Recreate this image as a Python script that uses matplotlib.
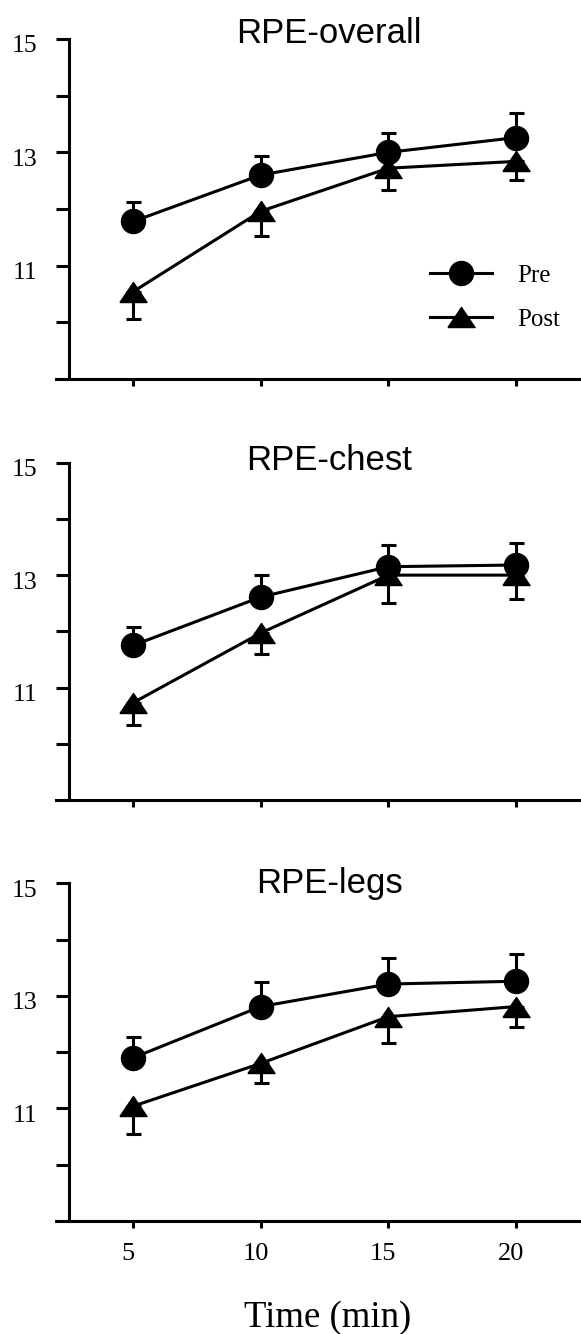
import matplotlib
matplotlib.use("Agg")
import matplotlib.pyplot as plt
import matplotlib.transforms as mtransforms

# Data
times = [5, 10, 15, 20]
panel_titles = ["RPE-overall", "RPE-chest", "RPE-legs"]

overall_pre = [11.78, 12.60, 13.00, 13.26]
overall_pre_err = [0.34, 0.33, 0.35, 0.43]
overall_post = [10.54, 11.96, 12.72, 12.84]
overall_post_err = [0.48, 0.43, 0.38, 0.33]

chest_pre = [11.75, 12.61, 13.15, 13.18]
chest_pre_err = [0.32, 0.39, 0.39, 0.39]
chest_post = [10.73, 11.97, 13.00, 13.00]
chest_post_err = [0.40, 0.38, 0.49, 0.42]

legs_pre = [11.90, 12.81, 13.21, 13.26]
legs_pre_err = [0.37, 0.43, 0.46, 0.48]
legs_post = [11.04, 11.80, 12.63, 12.81]
legs_post_err = [0.50, 0.35, 0.46, 0.36]

ytick_vals = [10, 11, 12, 13, 14, 15]
ytick_labels = ["", "11", "", "13", "", "15"]
xlabel = "Time (min)"

serif = ["Liberation Serif", "DejaVu Serif"]
sans = ["Liberation Sans", "DejaVu Sans"]

# wide flat triangle like the original marker
tri = [(-1, -0.74), (1, -0.74), (0, 0.74), (-1, -0.74)]

fig = plt.figure(figsize=(5.81, 13.34), dpi=100)

# axes boxes [left, bottom, width, height] in figure fraction
boxes = [
    [0.0964, 1 - 379 / 1334, 0.9036, 340 / 1334],
    [0.0964, 1 - 800 / 1334, 0.9036, 337.3 / 1334],
    [0.0964, 1 - 1221 / 1334, 0.9036, 337.7 / 1334],
]
title_y = [0.988, 0.979, 0.971]

series = [
    (overall_pre, overall_pre_err, overall_post, overall_post_err),
    (chest_pre, chest_pre_err, chest_post, chest_post_err),
    (legs_pre, legs_pre_err, legs_post, legs_post_err),
]

lw = 2.2
for i, (box, title, (pre, pre_err, post, post_err)) in enumerate(zip(boxes, panel_titles, series)):
    ax = fig.add_axes(box)

    # error bars: upward for Pre, downward for Post
    ax.errorbar(times, pre, yerr=[[0] * len(pre_err), pre_err], fmt="none",
                ecolor="black", elinewidth=lw, capsize=5.4, capthick=lw, zorder=2)
    ax.errorbar(times, post, yerr=[post_err, [0] * len(post_err)], fmt="none",
                ecolor="black", elinewidth=lw, capsize=5.4, capthick=lw, zorder=2)

    ax.plot(times, post, color="black", lw=lw, marker=tri, markersize=19.5,
            markerfacecolor="black", markeredgecolor="black", label="Post", zorder=3)
    ax.plot(times, pre, color="black", lw=lw, marker="o", markersize=17.3,
            markerfacecolor="black", markeredgecolor="black", label="Pre", zorder=4)

    ax.set_xlim(1.98, 22.55)
    ax.set_ylim(9, 15)
    ax.spines["top"].set_visible(False)
    ax.spines["right"].set_visible(False)
    ax.spines["left"].set_position(("data", 2.49))
    ax.spines["left"].set_bounds(9, 15)
    for s in ("left", "bottom"):
        ax.spines[s].set_linewidth(lw)

    ax.set_yticks(ytick_vals)
    ax.set_yticklabels(ytick_labels, fontfamily=serif, fontsize=18.5)
    ax.set_xticks(times)
    if i == 2:
        ax.set_xticklabels([str(t) for t in times], fontfamily=serif, fontsize=19)
    else:
        ax.set_xticklabels([])
    ax.tick_params(axis="y", direction="out", length=9.5, width=lw, pad=13)
    ax.tick_params(axis="x", direction="out", length=5, width=lw, pad=10.5)

    # labels in the scan sit a little low / left of their ticks
    ydown = mtransforms.ScaledTranslation(0, -5 / 100, fig.dpi_scale_trans)
    for lab in ax.get_yticklabels():
        lab.set_transform(lab.get_transform() + ydown)
    xleft = mtransforms.ScaledTranslation(-5 / 100, 0, fig.dpi_scale_trans)
    for lab in ax.get_xticklabels():
        lab.set_transform(lab.get_transform() + xleft)

    ax.text(0.52, title_y[i], title, transform=ax.transAxes, ha="center",
            va="baseline", fontfamily=sans, fontsize=25)

    if i == 0:
        h, l = ax.get_legend_handles_labels()
        ax.legend(h[::-1], l[::-1], loc="center left", bbox_to_anchor=(0.712, 0.24),
                  frameon=False, borderpad=0, borderaxespad=0, handlelength=2.5,
                  handletextpad=1.0, labelspacing=0.85, numpoints=1,
                  prop={"family": serif, "size": 18})

fig.text(0.5645, 1 - 1327 / 1334, xlabel, ha="center", va="baseline",
         fontfamily=serif, fontsize=26.5)

fig.savefig("out.png", dpi=100)
